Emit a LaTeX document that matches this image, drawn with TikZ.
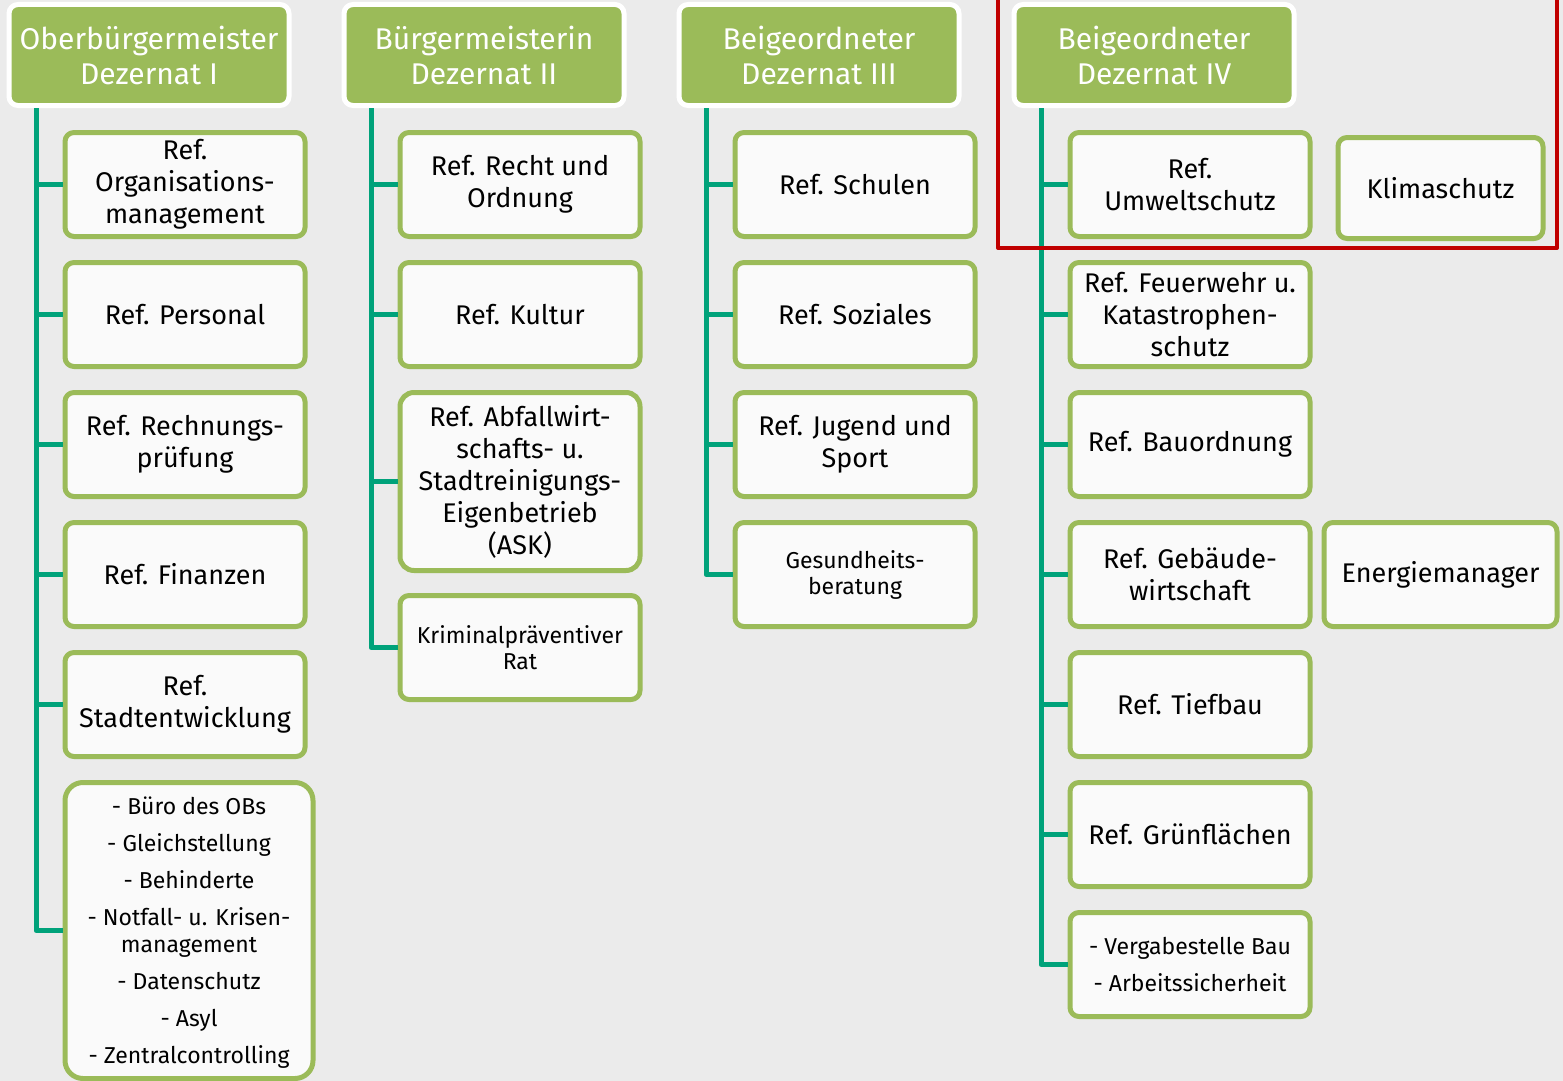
\documentclass[tikz,border=0pt]{standalone}
\usepackage{fontspec}
\setmainfont{Fira Sans}
\usepackage{tikz}
\usetikzlibrary{positioning}
\usepackage{xcolor}
\definecolor{boxgreen}{HTML}{9BBB59}
\definecolor{linegreen}{HTML}{00A27A}
\definecolor{framered}{HTML}{C00000}
\definecolor{bggray}{HTML}{EBEBEB}
\definecolor{boxwhite}{HTML}{FAFAFA}

\begin{document}
\begin{tikzpicture}[x=1pt,y=-1pt,node distance=21pt,line join=round]
  \tikzstyle{head}=[draw=white,fill=boxgreen,line width=5pt,rounded corners=9pt,
                    minimum width=280pt,minimum height=101pt,text=white,align=center,
                    font=\fontsize{30}{35}\selectfont]
  \tikzstyle{ref}=[draw=boxgreen,fill=boxwhite,line width=5pt,rounded corners=9pt,
                   minimum width=240pt,minimum height=104pt,text=black,align=center,
                   font=\fontsize{27}{32}\selectfont]
  \tikzstyle{small}=[font=\fontsize{23}{26}\selectfont]
  \tikzstyle{list}=[font=\fontsize{23}{27}\selectfont]
  \tikzstyle{conn}=[draw=linegreen,line width=5pt]

  \fill[bggray] (0,0) rectangle (1563,1081);
  \useasboundingbox (0,0) rectangle (1563,1081);

  \node[head] (D1) at (149,55) {Oberbürgermeister\\Dezernat I};
  \node[head] (D2) [right=50pt of D1] {Bürgermeisterin\\Dezernat II};
  \node[head] (D3) [right=50pt of D2] {Beigeordneter\\Dezernat III};
  \node[head] (D4) [right=50pt of D3] {Beigeordneter\\Dezernat IV};

  \node[ref] (R11) [below=22pt of D1, xshift=36pt] {Ref.\\Organisations-\\management};
  \node[ref] (R12) [below=of R11] {Ref. Personal};
  \node[ref] (R13) [below=of R12] {Ref. Rechnungs-\\prüfung};
  \node[ref] (R14) [below=of R13] {Ref. Finanzen};
  \node[ref] (R15) [below=of R14] {Ref.\\Stadtentwicklung};
  \node[ref, list, rounded corners=18pt, minimum width=248pt, minimum height=296pt]
        (R16) [below=of R15.south west, anchor=north west]
        {\\[-6pt]- Büro des OBs\\[10pt]- Gleichstellung\\[10pt]- Behinderte\\[10pt]- Notfall- u. Krisen-\\management\\[10pt]- Datenschutz\\[10pt]- Asyl\\[10pt]- Zentralcontrolling};

  \node[ref] (R21) [below=22pt of D2, xshift=36pt] {Ref. Recht und\\Ordnung};
  \node[ref] (R22) [below=of R21] {Ref. Kultur};
  \node[ref, rounded corners=14pt, minimum height=178pt] (R23) [below=of R22]
        {Ref. Abfallwirt-\\schafts- u.\\Stadtreinigungs-\\Eigenbetrieb\\(ASK)};
  \node[ref, small] (R24) [below=20pt of R23] {Kriminalpräventiver\\Rat};

  \node[ref] (R31) [below=22pt of D3, xshift=36pt] {Ref. Schulen};
  \node[ref] (R32) [below=of R31] {Ref. Soziales};
  \node[ref] (R33) [below=of R32] {Ref. Jugend und\\Sport};
  \node[ref, small] (R34) [below=of R33] {Gesundheits-\\beratung};

  \node[ref] (R41) [below=22pt of D4, xshift=36pt] {Ref.\\Umweltschutz};
  \node[ref] (R42) [below=of R41] {Ref. Feuerwehr u.\\Katastrophen-\\schutz};
  \node[ref] (R43) [below=of R42] {Ref. Bauordnung};
  \node[ref] (R44) [below=of R43] {Ref. Gebäude-\\wirtschaft};
  \node[ref] (R45) [below=of R44] {Ref. Tiefbau};
  \node[ref] (R46) [below=of R45] {Ref. Grünflächen};
  \node[ref, list] (R47) [below=of R46] {- Vergabestelle Bau\\[10pt]- Arbeitssicherheit};

  \node[ref, minimum width=205pt, minimum height=101pt] (K) [right=23pt of R41, yshift=-3.5pt] {Klimaschutz};
  \node[ref, minimum width=233pt] (E) [right=9pt of R44] {Energiemanager};

  \coordinate (T1) at ([xshift=29.5pt]D1.south west);
  \coordinate (T2) at ([xshift=29.5pt]D2.south west);
  \coordinate (T3) at ([xshift=29.5pt]D3.south west);
  \coordinate (T4) at ([xshift=29.5pt]D4.south west);

  \draw[conn] (T1) |- (R16.west);
  \draw[conn] (R11.west) -- (R11.west -| T1);
  \draw[conn] (R12.west) -- (R12.west -| T1);
  \draw[conn] (R13.west) -- (R13.west -| T1);
  \draw[conn] (R14.west) -- (R14.west -| T1);
  \draw[conn] (R15.west) -- (R15.west -| T1);

  \draw[conn] (T2) |- (R24.west);
  \draw[conn] (R21.west) -- (R21.west -| T2);
  \draw[conn] (R22.west) -- (R22.west -| T2);
  \draw[conn] (R23.west) -- (R23.west -| T2);

  \draw[conn] (T3) |- (R34.west);
  \draw[conn] (R31.west) -- (R31.west -| T3);
  \draw[conn] (R32.west) -- (R32.west -| T3);
  \draw[conn] (R33.west) -- (R33.west -| T3);

  \draw[conn] (T4) |- (R47.west);
  \draw[conn] (R41.west) -- (R41.west -| T4);
  \draw[conn] (R42.west) -- (R42.west -| T4);
  \draw[conn] (R43.west) -- (R43.west -| T4);
  \draw[conn] (R44.west) -- (R44.west -| T4);
  \draw[conn] (R45.west) -- (R45.west -| T4);
  \draw[conn] (R46.west) -- (R46.west -| T4);

  \draw[framered, line width=4pt] (998,-10) rectangle (1557,248);
\end{tikzpicture}
\end{document}
